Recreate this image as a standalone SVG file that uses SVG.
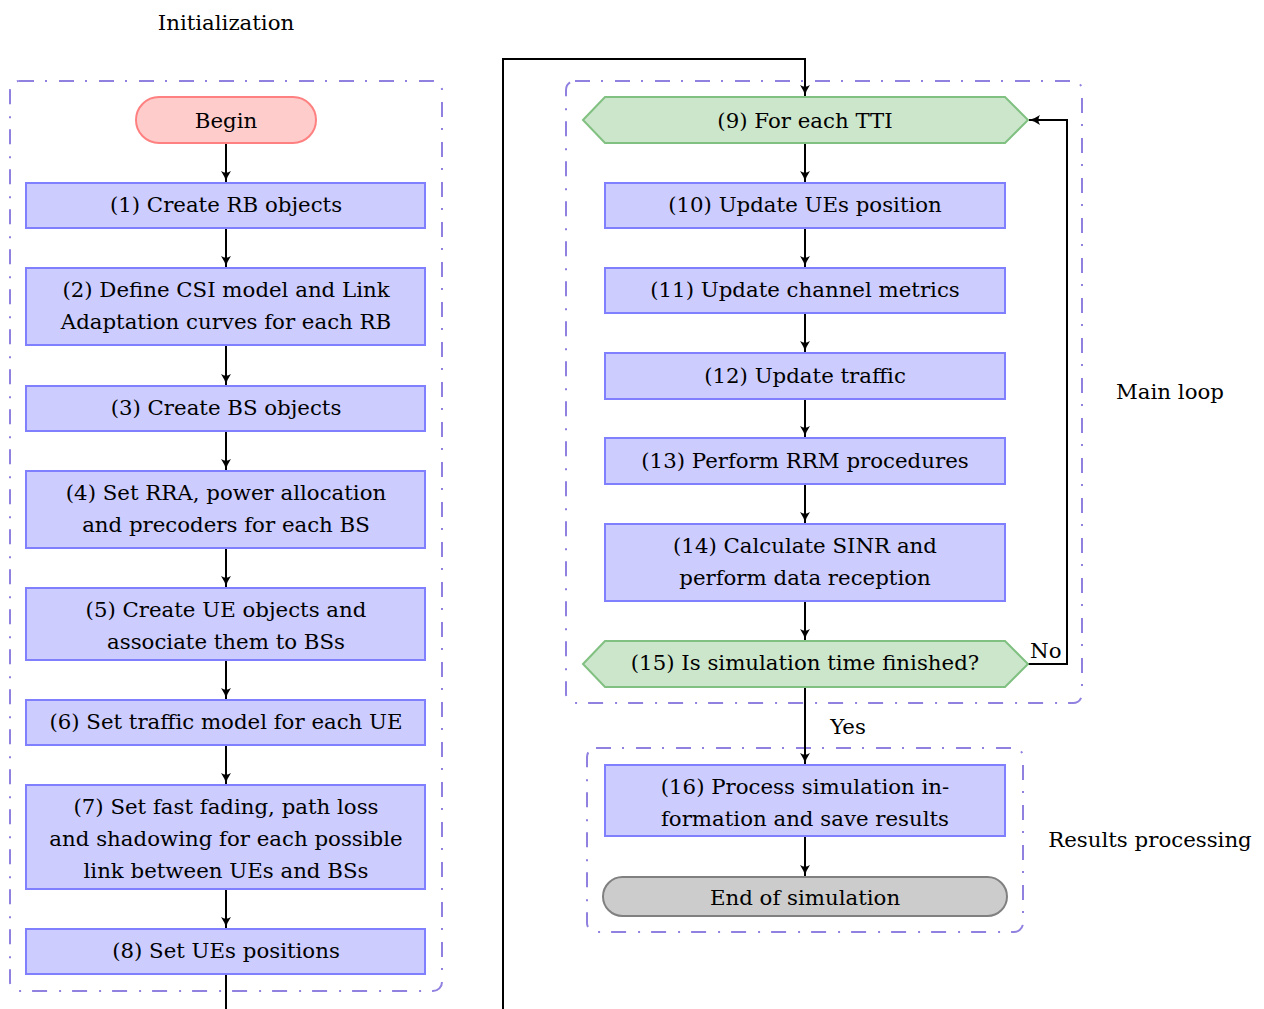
<svg xmlns="http://www.w3.org/2000/svg" width="1264" height="1009" viewBox="0 0 1264 1009">
<style>
text{font-family:"DejaVu Serif","Liberation Serif",serif;font-size:21.3px;fill:#000;text-anchor:middle}
.box{fill:#ccccff;stroke:#8080ff;stroke-width:2}
.dec{fill:#cce6cc;stroke:#80c080;stroke-width:2}
.beg{fill:#ffcccc;stroke:#ff8080;stroke-width:2}
.end{fill:#cccccc;stroke:#808080;stroke-width:2}
.grp{fill:none;stroke:#9080e0;stroke-width:2;stroke-dasharray:15 11 2 12}
.ln{fill:none;stroke:#000;stroke-width:2}
.lbl{text-anchor:start}
</style>
<defs>
<marker id="ah" viewBox="0 0 10 10" refX="10" refY="5" markerWidth="11" markerHeight="11" markerUnits="userSpaceOnUse" orient="auto">
<path d="M0,0.5 Q5,4 10,5 Q5,6 0,9.5 Q3,5 0,0.5 z" fill="#000"/>
</marker>
</defs>

<g id="containers">
<rect class="grp" x="10" y="81" width="432" height="910" rx="9"/>
<rect class="grp" x="566" y="81" width="516" height="622" rx="9"/>
<rect class="grp" x="587" y="748" width="436" height="184" rx="9"/>
</g>

<g id="group-labels">
<text x="226" y="30">Initialization</text>
<text x="1170" y="399">Main loop</text>
<text x="1150" y="847">Results processing</text>
</g>

<g id="connectors">
<path class="ln" d="M226,143 L226,182" marker-end="url(#ah)"/>
<path class="ln" d="M226,228 L226,267" marker-end="url(#ah)"/>
<path class="ln" d="M226,345 L226,385" marker-end="url(#ah)"/>
<path class="ln" d="M226,431 L226,470" marker-end="url(#ah)"/>
<path class="ln" d="M226,548 L226,587" marker-end="url(#ah)"/>
<path class="ln" d="M226,660 L226,699" marker-end="url(#ah)"/>
<path class="ln" d="M226,745 L226,784" marker-end="url(#ah)"/>
<path class="ln" d="M226,889 L226,928" marker-end="url(#ah)"/>
<path class="ln" d="M226,974 L226,1030 L503,1030 L503,59 L805,59 L805,96" marker-end="url(#ah)"/>
<path class="ln" d="M805,143 L805,182" marker-end="url(#ah)"/>
<path class="ln" d="M805,228 L805,267" marker-end="url(#ah)"/>
<path class="ln" d="M805,313 L805,352" marker-end="url(#ah)"/>
<path class="ln" d="M805,399 L805,437" marker-end="url(#ah)"/>
<path class="ln" d="M805,484 L805,523" marker-end="url(#ah)"/>
<path class="ln" d="M805,601 L805,640" marker-end="url(#ah)"/>
<path class="ln" d="M1028,664 L1067,664 L1067,120 L1029,120" marker-end="url(#ah)"/>
<path class="ln" d="M805,687 L805,764" marker-end="url(#ah)"/>
<path class="ln" d="M805,836 L805,876" marker-end="url(#ah)"/>
<text class="lbl" x="1030" y="658">No</text>
<text x="848" y="734">Yes</text>
</g>

<g id="begin">
<rect class="beg" x="136" y="97" width="180" height="46" rx="23"/>
<text x="226" y="128">Begin</text>
</g>
<g id="n1">
<rect class="box" x="26" y="183" width="399" height="45"/>
<text x="226" y="212">(1) Create RB objects</text>
</g>
<g id="n2">
<rect class="box" x="26" y="268" width="399" height="77"/>
<text x="226" y="297">(2) Define CSI model and Link</text>
<text x="226" y="329">Adaptation curves for each RB</text>
</g>
<g id="n3">
<rect class="box" x="26" y="386" width="399" height="45"/>
<text x="226" y="415">(3) Create BS objects</text>
</g>
<g id="n4">
<rect class="box" x="26" y="471" width="399" height="77"/>
<text x="226" y="500">(4) Set RRA, power allocation</text>
<text x="226" y="532">and precoders for each BS</text>
</g>
<g id="n5">
<rect class="box" x="26" y="588" width="399" height="72"/>
<text x="226" y="617">(5) Create UE objects and</text>
<text x="226" y="649">associate them to BSs</text>
</g>
<g id="n6">
<rect class="box" x="26" y="700" width="399" height="45"/>
<text x="226" y="729">(6) Set traffic model for each UE</text>
</g>
<g id="n7">
<rect class="box" x="26" y="785" width="399" height="104"/>
<text x="226" y="814">(7) Set fast fading, path loss</text>
<text x="226" y="846">and shadowing for each possible</text>
<text x="226" y="878">link between UEs and BSs</text>
</g>
<g id="n8">
<rect class="box" x="26" y="929" width="399" height="45"/>
<text x="226" y="958">(8) Set UEs positions</text>
</g>

<g id="n9">
<polygon class="dec" points="583,120 605,97 1005,97 1028,120 1005,143 605,143"/>
<text x="805" y="128">(9) For each TTI</text>
</g>
<g id="n10">
<rect class="box" x="605" y="183" width="400" height="45"/>
<text x="805" y="212">(10) Update UEs position</text>
</g>
<g id="n11">
<rect class="box" x="605" y="268" width="400" height="45"/>
<text x="805" y="297">(11) Update channel metrics</text>
</g>
<g id="n12">
<rect class="box" x="605" y="353" width="400" height="46"/>
<text x="805" y="383">(12) Update traffic</text>
</g>
<g id="n13">
<rect class="box" x="605" y="438" width="400" height="46"/>
<text x="805" y="468">(13) Perform RRM procedures</text>
</g>
<g id="n14">
<rect class="box" x="605" y="524" width="400" height="77"/>
<text x="805" y="553">(14) Calculate SINR and</text>
<text x="805" y="585">perform data reception</text>
</g>
<g id="n15">
<polygon class="dec" points="583,664 605,641 1005,641 1028,664 1005,687 605,687"/>
<text x="805" y="670">(15) Is simulation time finished?</text>
</g>
<g id="n16">
<rect class="box" x="605" y="765" width="400" height="71"/>
<text x="805" y="794">(16) Process simulation in-</text>
<text x="805" y="826">formation and save results</text>
</g>
<g id="end">
<rect class="end" x="603" y="877" width="404" height="39" rx="19.5"/>
<text x="805" y="905">End of simulation</text>
</g>
</svg>
